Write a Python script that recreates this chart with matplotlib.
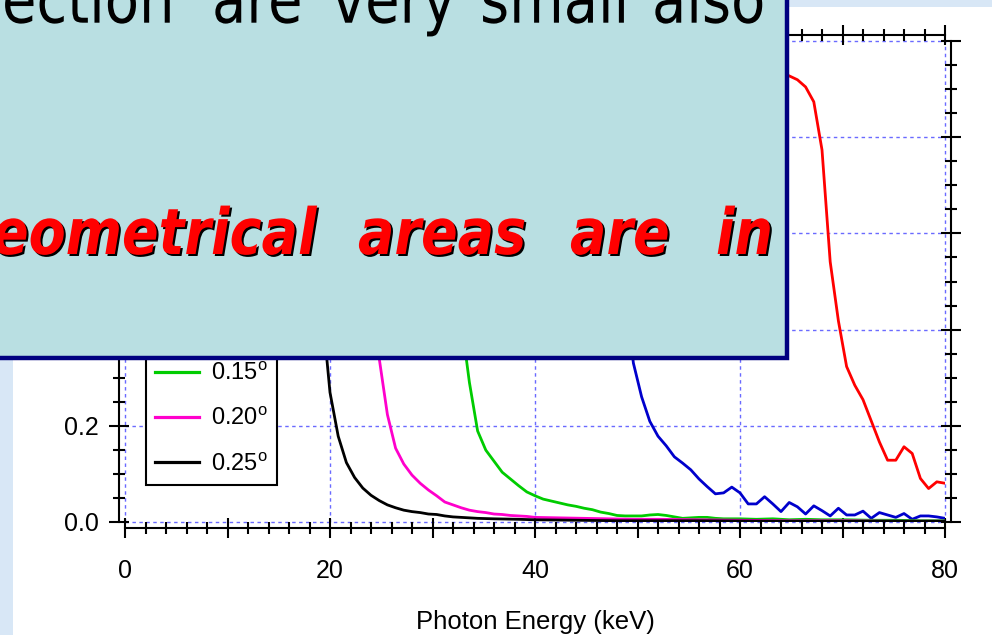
import numpy as np
import matplotlib.pyplot as plt
from matplotlib.patches import Rectangle, PathPatch
from matplotlib.textpath import TextPath
from matplotlib.font_manager import FontProperties
from matplotlib.transforms import Affine2D
from matplotlib.ticker import MultipleLocator, FormatStrFormatter, FuncFormatter

W, H = 992, 635

# grazing angles (degrees) and their curve colours
angles = ['0.05', '0.10', '0.15', '0.20', '0.25']
colors = ['#ff0000', '#0000cc', '#00cc00', '#ff00cc', '#000000']

# reflectivity vs photon energy (keV), one pair of lists per angle
e_005 = [0, 10, 20, 30, 40, 50, 56, 60, 62.4, 64.0, 64.8, 65.6, 66.4, 67.2, 68.0,
         68.8, 69.6, 70.4, 71.2, 72.0, 72.8, 73.6, 74.4, 75.2, 76.0, 76.8, 77.6,
         78.4, 79.2, 80.0]
r_005 = [0.98, 0.975, 0.97, 0.965, 0.96, 0.955, 0.95, 0.945, 0.94, 0.935, 0.928,
         0.920, 0.905, 0.874, 0.774, 0.541, 0.418, 0.323, 0.284, 0.254, 0.210,
         0.166, 0.128, 0.128, 0.156, 0.142, 0.090, 0.069, 0.083, 0.080]

e_010 = [0, 10, 20, 30, 40, 44.0, 46.4, 47.2, 48.0, 48.8, 49.6, 50.4, 51.2, 52.0,
         52.8, 53.6, 54.4, 55.2, 56.0, 56.8, 57.6, 58.4, 59.2, 60.0, 60.8, 61.6,
         62.4, 63.2, 64.0, 64.8, 65.6, 66.4, 67.2, 68.0, 68.8, 69.6, 70.4, 71.2,
         72.0, 72.8, 73.6, 74.4, 75.2, 76.0, 76.8, 77.6, 78.4, 79.2, 80.0]
r_010 = [0.97, 0.965, 0.96, 0.955, 0.95, 0.94, 0.90, 0.80, 0.64, 0.47, 0.330,
         0.260, 0.209, 0.178, 0.158, 0.135, 0.122, 0.108, 0.089, 0.073, 0.058,
         0.060, 0.072, 0.060, 0.037, 0.037, 0.052, 0.037, 0.021, 0.040, 0.031,
         0.016, 0.033, 0.023, 0.012, 0.028, 0.014, 0.014, 0.022, 0.007, 0.019,
         0.014, 0.009, 0.017, 0.005, 0.012, 0.012, 0.010, 0.007]

e_015 = [0, 10, 20, 28.0, 30.4, 31.2, 32.0, 32.8, 33.6, 34.4, 35.2, 36.0, 36.8,
         37.6, 38.4, 39.2, 40.0, 40.8, 41.6, 42.4, 43.2, 44.0, 44.8, 45.6, 46.4,
         47.2, 48.0, 48.8, 49.6, 50.4, 51.2, 52.0, 52.8, 53.6, 54.4, 55.2, 56.0,
         56.8, 57.6, 58.4, 60.0, 61.6, 63.2, 64.8, 66.4, 68.0, 70.4, 72.8, 75.2,
         77.6, 80.0]
r_015 = [0.97, 0.965, 0.96, 0.95, 0.90, 0.80, 0.62, 0.42, 0.290, 0.189, 0.149,
         0.126, 0.103, 0.089, 0.075, 0.062, 0.054, 0.047, 0.043, 0.039, 0.035,
         0.032, 0.028, 0.025, 0.020, 0.017, 0.013, 0.012, 0.012, 0.012, 0.014,
         0.015, 0.013, 0.010, 0.007, 0.008, 0.009, 0.009, 0.007, 0.006, 0.006,
         0.005, 0.006, 0.004, 0.005, 0.004, 0.004, 0.003, 0.003, 0.002, 0.002]

e_020 = [0, 10, 18.4, 21.6, 22.4, 23.2, 24.0, 24.8, 25.6, 26.4, 27.2, 28.0, 28.8,
         29.6, 30.4, 31.2, 32.0, 32.8, 33.6, 34.4, 35.2, 36.0, 36.8, 37.6, 38.4,
         39.2, 40.0, 42.4, 44.8, 47.2, 49.6, 52.0, 56.0, 60.0, 64.8, 70.4, 75.2,
         80.0]
r_020 = [0.975, 0.97, 0.96, 0.93, 0.85, 0.70, 0.50, 0.340, 0.223, 0.153, 0.120,
         0.097, 0.080, 0.066, 0.054, 0.041, 0.035, 0.029, 0.024, 0.021, 0.019,
         0.016, 0.015, 0.013, 0.012, 0.011, 0.009, 0.008, 0.007, 0.006, 0.005,
         0.005, 0.004, 0.003, 0.002, 0.002, 0.001, 0.001]

e_025 = [0, 10, 16.0, 17.6, 18.4, 19.2, 20.0, 20.8, 21.6, 22.4, 23.2, 24.0, 24.8,
         25.6, 26.4, 27.2, 28.0, 28.8, 29.6, 30.4, 31.2, 32.0, 32.8, 34.4, 36.0,
         38.4, 40.0, 44.0, 48.0, 56.0, 64.0, 72.0, 80.0]
r_025 = [0.975, 0.97, 0.94, 0.85, 0.68, 0.45, 0.269, 0.178, 0.123, 0.092, 0.070,
         0.055, 0.044, 0.035, 0.029, 0.024, 0.021, 0.019, 0.016, 0.015, 0.012,
         0.010, 0.009, 0.007, 0.006, 0.005, 0.004, 0.003, 0.002, 0.002, 0.001,
         0.001, 0.001]

energies = [e_005, e_010, e_015, e_020, e_025]
refl = [r_005, r_010, r_015, r_020, r_025]

plt.rcParams['font.family'] = ['Liberation Sans', 'DejaVu Sans']
plt.rcParams['mathtext.fontset'] = 'custom'
plt.rcParams['mathtext.rm'] = 'Liberation Sans'
plt.rcParams['mathtext.it'] = 'Liberation Sans:italic'

fig = plt.figure(figsize=(W / 100, H / 100), dpi=100, facecolor='white')

# slide background showing at the edges
bg = '#d8e7f6'
fig.add_artist(Rectangle((0, 0), 13 / W, 1, transform=fig.transFigure,
                         facecolor=bg, edgecolor='none', zorder=-5))
fig.add_artist(Rectangle((0, 1 - 7 / H), 1, 7 / H, transform=fig.transFigure,
                         facecolor=bg, edgecolor='none', zorder=-5))

ax = fig.add_axes([125 / W, 1 - 521.7 / H, 820 / W, 480.4 / H])

for e, r, ang, c in zip(energies, refl, angles, colors):
    ax.plot(e, r, color=c, linewidth=2.0, label=ang + r'$^{\rm o}$', zorder=3)

ax.set_xlim(0, 80)
ax.set_ylim(0, 1.0)
# long ticks every 10 keV, numbers only every 20 keV
ax.xaxis.set_major_locator(MultipleLocator(10))
ax.xaxis.set_major_formatter(FuncFormatter(lambda v, p: f'{v:.0f}' if v % 20 == 0 else ''))
ax.xaxis.set_minor_locator(MultipleLocator(2))
ax.yaxis.set_major_locator(MultipleLocator(0.2))
ax.yaxis.set_minor_locator(MultipleLocator(0.05))
ax.yaxis.set_major_formatter(FormatStrFormatter('%.1f'))

for side in ['left', 'right', 'top', 'bottom']:
    ax.spines[side].set_position(('outward', 4.3))
    ax.spines[side].set_linewidth(1.5)

ax.tick_params(which='both', direction='inout', top=True, right=True,
               width=1.5, colors='black', labelsize=18)
ax.tick_params(which='major', length=14.5)
ax.tick_params(which='minor', length=8.6)
ax.tick_params(axis='x', which='major', pad=15)
ax.tick_params(axis='y', which='major', pad=7)

# dotted grid, drawn unclipped so the lines on the frame edges show in full
grid_kw = dict(color='#6a6aff', linestyle=(0, (2.5, 2.5)), linewidth=1.0,
               clip_on=False, zorder=1)
for xv in np.arange(0, 81, 20):
    ax.axvline(xv, **grid_kw)
for yv in np.arange(0, 1.01, 0.2):
    ax.axhline(yv, **grid_kw)

ax.set_xlabel('Photon Energy (keV)', fontsize=18.5, labelpad=20)
ax.set_ylabel('Reflectivity', fontsize=18.5)

leg = ax.legend(loc='lower left', bbox_to_anchor=(0.0252, 0.0764),
                borderaxespad=0, fancybox=False, edgecolor='black', framealpha=1,
                fontsize=17, handlelength=1.85, handletextpad=0.5,
                borderpad=0.4, labelspacing=0.97)
leg.get_frame().set_linewidth(1.5)
leg.set_zorder(5)
for line in leg.get_lines():
    line.set_linewidth(2.3)

# text box laid over the slide
fig.add_artist(Rectangle((-20 / W, 1 - 357.5 / H), 806.5 / W, 400 / H,
                         transform=fig.transFigure, facecolor='#b9dfe2',
                         edgecolor='#000080', linewidth=3.2, zorder=10))


def slide_words(words, baseline, size, prop, color, shadow=None, stretch=1.18):
    for x, word in words:
        tp = TextPath((0, 0), word, size=size, prop=prop)
        if shadow is not None:
            t = Affine2D().scale(1, stretch).translate(x + 2, H - baseline - 2)
            fig.add_artist(PathPatch(tp, transform=t, facecolor=shadow,
                                     edgecolor='none', zorder=11))
        t = Affine2D().scale(1, stretch).translate(x, H - baseline)
        fig.add_artist(PathPatch(tp, transform=t, facecolor=color,
                                 edgecolor='none', zorder=12))


regular = FontProperties(family='DejaVu Sans')
bold_it = FontProperties(family='DejaVu Sans', weight='bold', style='oblique')

slide_words([(2, 'ection'), (212, 'are'), (332, 'very'), (480, 'small'),
             (652, 'also')], 22.7, 56, regular, 'black')
slide_words([(-8, 'eometrical'), (358, 'areas'), (570, 'are'), (716, 'in')],
            254, 54, bold_it, '#ff0000', shadow='black')

fig.savefig('out.png', dpi=100, facecolor=fig.get_facecolor())
